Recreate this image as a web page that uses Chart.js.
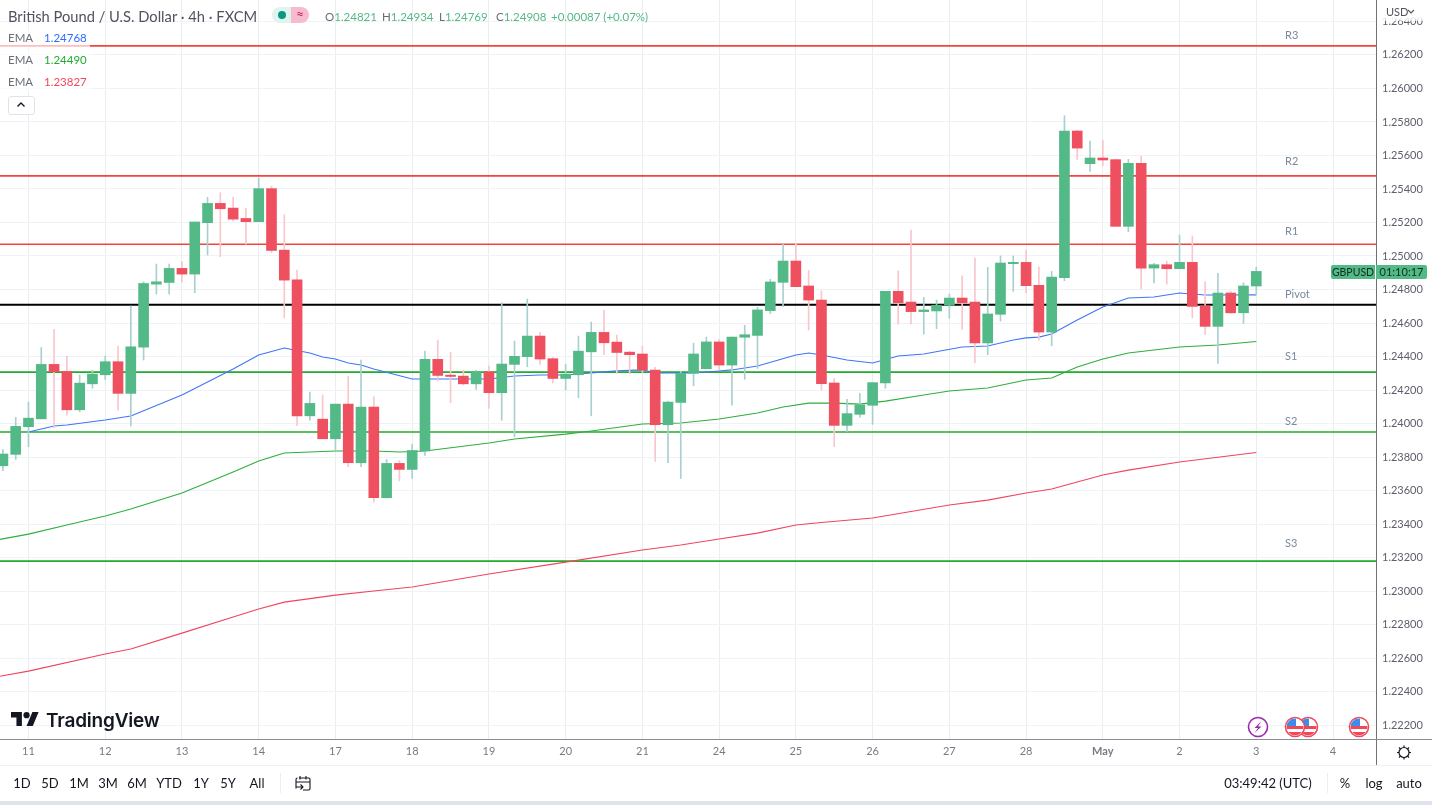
<!DOCTYPE html>
<html>
<head>
<meta charset="utf-8">
<title>GBPUSD 4h</title>
<script src="https://cdn.jsdelivr.net/npm/chart.js@4/dist/chart.umd.min.js"></script>
<style>
  html, body { margin: 0; padding: 0; background: #fff; overflow: hidden; }
  body { width: 1432px; height: 805px; position: relative; font-family: Lato, "Open Sans", sans-serif; color: #131722; }
  canvas { position: absolute; left: 0; top: 0; }
  .t { position: absolute; white-space: nowrap; line-height: 16px; }
  .lvl { position: absolute; left: 1285px; font-size: 11px; line-height: 14px; color: #7b8a9e; }
  .ema { position: absolute; left: 0; height: 20px; width: 90px; background: rgba(255,255,255,.65); font-size: 11.5px; line-height: 20px; }
  .ema span { position: absolute; top: 0; }
  .ema .n { left: 8px; color: #6a6d78; }
  .ema .v { left: 44px; }
  .ohlc { position: absolute; top: 9px; font-size: 11.5px; line-height: 16px; color: #53b987; white-space: nowrap; }
  .ohlc i { font-style: normal; color: #6a6d78; }
  .line { position: absolute; background: #6f7177; }
  .btn { position: absolute; top: 775px; font-size: 13px; line-height: 16px; transform: translateX(-50%); }
  svg { position: absolute; overflow: visible; }
</style>
</head>
<body>
<canvas id="chart" width="1432" height="765"></canvas>

<!-- legend -->
<div class="t" style="left:8px;top:8px;font-size:14.7px;color:#50535e">British Pound / U.S. Dollar · 4h · FXCM</div>
<div style="position:absolute;left:272px;top:7px;width:19px;height:16px;background:#dff3ef;border-radius:8px 0 0 8px"></div>
<div style="position:absolute;left:291px;top:7px;width:18px;height:16px;background:#f8bacf;border-radius:0 8px 8px 0;color:#c2185b;font-size:13px;line-height:15px;text-align:center">≈</div>
<div style="position:absolute;left:278px;top:11px;width:8px;height:8px;background:#089981;border-radius:50%"></div>
<div id="ohlc"></div>
<div class="ema" style="top:28px"><span class="n">EMA</span><span class="v" style="color:#2f6bff">1.24768</span></div>
<div class="ema" style="top:50px"><span class="n">EMA</span><span class="v" style="color:#22ab2e">1.24490</span></div>
<div class="ema" style="top:72px"><span class="n">EMA</span><span class="v" style="color:#f5475b">1.23827</span></div>
<div style="position:absolute;left:8px;top:96px;width:25px;height:17px;border:1px solid #e0e3eb;border-radius:3px;background:#fff"></div>
<svg style="left:16px;top:101px" width="10" height="7"><path d="M1.5 5.5 L5 2 L8.5 5.5" fill="none" stroke="#131722" stroke-width="1.4"/></svg>

<!-- pivot labels -->
<div class="lvl" style="top:28px">R3</div>
<div class="lvl" style="top:154px">R2</div>
<div class="lvl" style="top:224px">R1</div>
<div class="lvl" style="top:287px">Pivot</div>
<div class="lvl" style="top:349px">S1</div>
<div class="lvl" style="top:414px">S2</div>
<div class="lvl" style="top:536px">S3</div>

<!-- axis frame -->
<div class="line" style="left:1376px;top:0;width:1px;height:765px"></div>
<div class="line" style="left:0;top:739px;width:1432px;height:1px;background:#8a8c92"></div>
<div style="position:absolute;left:1377px;top:0;width:55px;height:21px;background:linear-gradient(#fff 80%,rgba(255,255,255,.6))"></div>
<div class="t" style="left:1386px;top:4px;font-size:11px;color:#50535e">USD</div>
<svg style="left:1407px;top:9px" width="8" height="6"><path d="M1 1 L4 4 L7 1" fill="none" stroke="#50535e" stroke-width="1.1"/></svg>

<!-- price tag -->
<div style="position:absolute;left:1331px;top:265px;width:44px;height:14px;background:#53b987;border-radius:2px 0 0 2px;color:#0c2f20;font-size:10.5px;line-height:14px;text-align:center">GBPUSD</div>
<div style="position:absolute;left:1376px;top:265px;width:51px;height:14px;background:#53b987;border-radius:0 2px 2px 0;color:#0c2f20;font-size:11px;line-height:14px;text-align:center">01:10:17</div>

<!-- logo -->
<svg style="left:11px;top:709px" width="28" height="21.8" viewBox="0 0 36 28"><path d="M14 22H7V11H0V4h14v18zM28 22h-8l7.5-18h8L28 22z" fill="#131722"/><circle cx="20" cy="8" r="4" fill="#131722"/></svg>
<div class="t" style="left:46px;top:710px;font-family:Inter,sans-serif;font-weight:600;font-size:19px;line-height:22px;letter-spacing:-.2px;color:#131722">TradingView</div>

<!-- event markers -->
<svg style="left:0;top:0" width="1432" height="805">
  <defs>
    <clipPath id="fc"><circle cx="0" cy="0" r="8.5"/></clipPath>
    <g id="flag">
      <circle r="9.5" fill="#fff" stroke="#f0475a" stroke-width="1.6"/>
      <g clip-path="url(#fc)">
        <rect x="-9" y="-9" width="18" height="18" fill="#fff"/>
        <rect x="-9" y="-1" width="18" height="3" fill="#f0475a"/>
        <rect x="-9" y="5" width="18" height="4" fill="#f0475a"/>
        <rect x="-9" y="-9" width="10" height="8" fill="#3d8bea"/>
      </g>
    </g>
  </defs>
  <circle cx="1258" cy="727" r="9.5" fill="#fff" stroke="#9c27b0" stroke-width="1.6"/>
  <path d="M1261.5 721 L1254.5 728 L1258 728 L1254.5 733 L1261.5 726.5 L1258 726.5 Z" fill="#9c27b0"/>
  <use href="#flag" x="1308" y="727"/>
  <use href="#flag" x="1295" y="727"/>
  <use href="#flag" x="1359" y="727"/>
  <!-- settings -->
  <circle cx="1404" cy="752.5" r="5" fill="none" stroke="#131722" stroke-width="1.2"/>
  <path d="M1404 745.5v2M1404 757.5v2M1397 752.5h2M1409 752.5h2M1399 747.5l1.4 1.4M1407.6 756.1l1.4 1.4M1409 747.5l-1.4 1.4M1400.4 756.1l-1.4 1.4" stroke="#131722" stroke-width="1.2"/>
  <!-- calendar -->
  <path d="M299 778h9.5a1.5 1.5 0 0 1 1.5 1.5v9a1.5 1.5 0 0 1-1.5 1.5H303M296 788.5v-9a1.5 1.5 0 0 1 1.5-1.5M296 782h14M300 776v3.5M306 776v3.5M296 787h7M300.5 784.5L303 787l-2.5 2.5" fill="none" stroke="#131722" stroke-width="1.1"/>
</svg>

<!-- bottom bar -->
<div style="position:absolute;left:0;top:765px;width:1432px;height:1px;background:#eff1f4"></div>
<div class="btn" style="left:22px">1D</div>
<div class="btn" style="left:50px">5D</div>
<div class="btn" style="left:79px">1M</div>
<div class="btn" style="left:108px">3M</div>
<div class="btn" style="left:137px">6M</div>
<div class="btn" style="left:169px">YTD</div>
<div class="btn" style="left:201px">1Y</div>
<div class="btn" style="left:228px">5Y</div>
<div class="btn" style="left:257px">All</div>
<div style="position:absolute;left:280px;top:773px;width:1px;height:20px;background:#eceef2"></div>
<div class="btn" style="left:1268px">03:49:42 (UTC)</div>
<div style="position:absolute;left:1327px;top:773px;width:1px;height:20px;background:#eceef2"></div>
<div class="btn" style="left:1345px">%</div>
<div class="btn" style="left:1374px">log</div>
<div class="btn" style="left:1409px">auto</div>
<div style="position:absolute;left:0;top:801px;width:1432px;height:4px;background:#e0e3eb"></div>

<script>
// daily labels under the chart, one every 6 bars
var dateLabels = ['11', '12', '13', '14', '17', '18', '19', '20', '21', '24', '25', '26', '27', '28', 'May', '2', '3', '4'];
var priceTicks = [1.222, 1.224, 1.226, 1.228, 1.23, 1.232, 1.234, 1.236, 1.238, 1.24, 1.242, 1.244, 1.246, 1.248, 1.25, 1.252, 1.254, 1.256, 1.258, 1.26, 1.262, 1.264];

// 4h bars, first one is two bars before the "11" tick
var firstBar = -2;
var opens = [
  1.23748, 1.23816, 1.23981, 1.24028, 1.24353, 1.24311, 1.24082, 1.24237, 1.24291, 1.24369,
  1.24180, 1.24456, 1.24832, 1.24842, 1.24926, 1.24892, 1.25199, 1.25314, 1.25286, 1.25224,
  1.25205, 1.25402, 1.25035, 1.24858, 1.24046, 1.24026, 1.23909, 1.24116, 1.23766, 1.24098,
  1.23557, 1.23762, 1.23726, 1.23837, 1.24383, 1.24289, 1.24283, 1.24237, 1.24309, 1.24184,
  1.24353, 1.24399, 1.24522, 1.24387, 1.24269, 1.24291, 1.24428, 1.24544, 1.24486, 1.24426,
  1.24415, 1.24319, 1.23993, 1.24126, 1.24300, 1.24327, 1.24487, 1.24349, 1.24515, 1.24526,
  1.24674, 1.24843, 1.24970, 1.24821, 1.24737, 1.24242, 1.23989, 1.24055, 1.24109, 1.24242,
  1.24789, 1.24725, 1.24668, 1.24672, 1.24706, 1.24749, 1.24725, 1.24481, 1.24652, 1.24954,
  1.24962, 1.24825, 1.24546, 1.24870, 1.25746, 1.25551, 1.25585, 1.25575, 1.25177, 1.25553,
  1.24928, 1.24948, 1.24924, 1.24962, 1.24703, 1.24580, 1.24779, 1.24661, 1.24821
];
var highs = [
  1.23845, 1.24036, 1.24128, 1.24454, 1.24562, 1.24403, 1.24289, 1.24319, 1.24403, 1.24462,
  1.24701, 1.24846, 1.24952, 1.24952, 1.24966, 1.25203, 1.25350, 1.25378, 1.25350, 1.25286,
  1.25465, 1.25417, 1.25246, 1.24916, 1.24188, 1.24170, 1.24116, 1.24283, 1.24379, 1.24160,
  1.23786, 1.23778, 1.23877, 1.24432, 1.24498, 1.24426, 1.24319, 1.24319, 1.24343, 1.24721,
  1.24492, 1.24743, 1.24544, 1.24395, 1.24353, 1.24522, 1.24606, 1.24677, 1.24528, 1.24432,
  1.24462, 1.24335, 1.24134, 1.24311, 1.24479, 1.24516, 1.24503, 1.24516, 1.24586, 1.24694,
  1.24861, 1.25072, 1.25076, 1.24913, 1.24793, 1.24270, 1.24144, 1.24180, 1.24244, 1.24789,
  1.24911, 1.25155, 1.24753, 1.24737, 1.24773, 1.24881, 1.24988, 1.24932, 1.25000, 1.25000,
  1.25036, 1.24936, 1.24908, 1.25837, 1.25752, 1.25686, 1.25692, 1.25577, 1.25577, 1.25597,
  1.24956, 1.24968, 1.25125, 1.25119, 1.24846, 1.24896, 1.24791, 1.24840, 1.24934
];
var lows = [
  1.23718, 1.23786, 1.23861, 1.24028, 1.23976, 1.24050, 1.24070, 1.24211, 1.24263, 1.24080,
  1.23985, 1.24379, 1.24773, 1.24773, 1.24844, 1.24781, 1.25006, 1.24996, 1.25209, 1.25071,
  1.25205, 1.25019, 1.24631, 1.23987, 1.24020, 1.23909, 1.23841, 1.23742, 1.23742, 1.23531,
  1.23557, 1.23658, 1.23672, 1.23810, 1.24255, 1.24124, 1.24229, 1.24204, 1.24090, 1.24020,
  1.23921, 1.24339, 1.24353, 1.24243, 1.24200, 1.24154, 1.24046, 1.24411, 1.24299, 1.24297,
  1.24305, 1.23774, 1.23766, 1.23672, 1.24226, 1.24327, 1.24320, 1.24109, 1.24264, 1.24329,
  1.24656, 1.24698, 1.24817, 1.24558, 1.24200, 1.23862, 1.23953, 1.24037, 1.23995, 1.24210,
  1.24594, 1.24594, 1.24534, 1.24566, 1.24628, 1.24562, 1.24363, 1.24411, 1.24612, 1.24789,
  1.24781, 1.24498, 1.24464, 1.24852, 1.25577, 1.25505, 1.25539, 1.25177, 1.25145, 1.24805,
  1.24840, 1.24832, 1.24924, 1.24630, 1.24530, 1.24359, 1.24657, 1.24598, 1.24769
];
var closes = [
  1.23818, 1.23983, 1.24032, 1.24353, 1.24309, 1.24082, 1.24241, 1.24295, 1.24369, 1.24180,
  1.24458, 1.24836, 1.24846, 1.24926, 1.24892, 1.25203, 1.25314, 1.25282, 1.25220, 1.25205,
  1.25402, 1.25033, 1.24856, 1.24046, 1.24120, 1.23909, 1.24116, 1.23766, 1.24098, 1.23557,
  1.23762, 1.23726, 1.23839, 1.24383, 1.24287, 1.24281, 1.24237, 1.24309, 1.24184, 1.24355,
  1.24401, 1.24522, 1.24385, 1.24269, 1.24295, 1.24432, 1.24544, 1.24482, 1.24424, 1.24411,
  1.24319, 1.23993, 1.24128, 1.24299, 1.24415, 1.24487, 1.24349, 1.24516, 1.24530, 1.24678,
  1.24845, 1.24970, 1.24817, 1.24737, 1.24238, 1.23989, 1.24059, 1.24111, 1.24244, 1.24789,
  1.24721, 1.24668, 1.24678, 1.24706, 1.24749, 1.24721, 1.24481, 1.24654, 1.24958, 1.24962,
  1.24823, 1.24546, 1.24874, 1.25746, 1.25644, 1.25585, 1.25573, 1.25177, 1.25553, 1.24928,
  1.24948, 1.24924, 1.24962, 1.24699, 1.24580, 1.24779, 1.24661, 1.24821, 1.24908
];

// EMA lines, read at the bars listed
var blueBars = [0, 2, 3, 6, 8, 12, 16, 18, 20, 22, 23, 24, 25, 26, 27, 30, 33, 36, 38, 40, 42, 43, 46, 48, 49, 52, 54, 55, 57, 60, 61, 62, 64, 66, 68, 70, 73, 75, 77, 78, 79, 80, 82, 84, 86, 88, 90, 92, 96];
var blueEma = [1.23949, 1.23985, 1.23991, 1.24021, 1.24045, 1.24170, 1.24325, 1.24409, 1.24451, 1.24421, 1.24397, 1.24385, 1.24361, 1.24349, 1.24325, 1.24266, 1.24266, 1.24266, 1.24284, 1.24290, 1.24290, 1.24296, 1.24314, 1.24320, 1.24302, 1.24302, 1.24314, 1.24320, 1.24343, 1.24409, 1.24421, 1.24409, 1.24379, 1.24361, 1.24403, 1.24415, 1.24457, 1.24463, 1.24499, 1.24511, 1.24516, 1.24534, 1.24618, 1.24696, 1.24749, 1.24755, 1.24779, 1.24767, 1.24768];
var greenBars = [-3, 0, 3, 6, 8, 12, 16, 18, 20, 24, 27, 29, 31, 36, 38, 42, 44, 48, 51, 54, 57, 59, 61, 63, 65, 67, 70, 72, 75, 78, 80, 82, 84, 86, 90, 93, 96];
var greenEma = [1.23298, 1.23340, 1.23394, 1.23448, 1.23490, 1.23585, 1.23711, 1.23776, 1.23824, 1.23836, 1.23836, 1.23830, 1.23836, 1.23884, 1.23908, 1.23937, 1.23955, 1.23997, 1.24003, 1.24027, 1.24063, 1.24099, 1.24122, 1.24122, 1.24116, 1.24134, 1.24170, 1.24194, 1.24212, 1.24260, 1.24272, 1.24337, 1.24385, 1.24421, 1.24457, 1.24469, 1.24490];
var redBars = [-3, 0, 6, 8, 12, 16, 18, 20, 24, 27, 30, 36, 42, 48, 51, 54, 57, 60, 62, 66, 72, 75, 78, 80, 84, 86, 90, 96];
var redEma = [1.22481, 1.22522, 1.22624, 1.22654, 1.22749, 1.22845, 1.22893, 1.22934, 1.22976, 1.23000, 1.23024, 1.23102, 1.23173, 1.23245, 1.23275, 1.23311, 1.23346, 1.23394, 1.23409, 1.23436, 1.23514, 1.23543, 1.23585, 1.23609, 1.23693, 1.23722, 1.23770, 1.23827];

// pivot levels
var levelNames = ['R3', 'R2', 'R1', 'Pivot', 'S1', 'S2', 'S3'];
var levelPrices = [1.26254, 1.25478, 1.25070, 1.24709, 1.24307, 1.23949, 1.23179];

var ohlcLabels = ['O', 'H', 'L', 'C'];
var ohlcValues = ['1.24821', '1.24934', '1.24769', '1.24908'];

var xMin = -2.228, xMax = 105.36;
var GREEN = '#53b987', RED = '#ee5060';
var FONT = 'Lato, "Open Sans", sans-serif';

// legend values, 57px apart like the original
var ohlcHtml = ohlcLabels.map(function (l, i) {
  return '<div class="ohlc" style="left:' + (325 + i * 57) + 'px"><i>' + l + '</i>' + ohlcValues[i] + '</div>';
}).join('');
document.getElementById('ohlc').innerHTML = ohlcHtml + '<div class="ohlc" style="left:551px">+0.00087 (+0.07%)</div>';

function points(xs, ys) {
  return xs.map(function (x, i) { return { x: x, y: ys[i] }; });
}

var wickData = [], bodyData = [], wickColors = [], bodyColors = [];
opens.forEach(function (o, i) {
  var up = closes[i] >= o;
  wickData.push({ x: firstBar + i, y: [lows[i], highs[i]] });
  bodyData.push({ x: firstBar + i, y: [o, closes[i]] });
  wickColors.push(up ? '#a9cfcf' : '#f9c6cc');
  bodyColors.push(up ? GREEN : RED);
});

var levelSets = levelNames.map(function (name, i) {
  var color = name === 'Pivot' ? '#000000' : (name.charAt(0) === 'R' ? '#f2453d' : '#22ab2e');
  return {
    type: 'line', label: name, order: 4,
    data: [{ x: xMin, y: levelPrices[i] }, { x: xMax, y: levelPrices[i] }],
    borderColor: color, borderWidth: name === 'Pivot' ? 2 : 1.6, pointRadius: 0, tension: 0
  };
});

function emaSet(label, xs, ys, color) {
  return { type: 'line', label: label, order: 3, data: points(xs, ys), borderColor: color, borderWidth: 1.1, pointRadius: 0, tension: 0 };
}

new Chart(document.getElementById('chart'), {
  type: 'bar',
  data: {
    datasets: levelSets.concat([
      emaSet('EMA 50', blueBars, blueEma, '#3f76f5'),
      emaSet('EMA 100', greenBars, greenEma, '#2fae3c'),
      emaSet('EMA 200', redBars, redEma, '#f0455c'),
      { label: 'wick', order: 1, grouped: false, data: wickData, backgroundColor: wickColors, barThickness: 1 },
      { label: 'body', order: 0, grouped: false, data: bodyData, backgroundColor: bodyColors, barThickness: 10, minBarLength: 1 }
    ])
  },
  options: {
    responsive: false,
    animation: false,
    layout: { padding: 0 },
    plugins: { legend: { display: false }, tooltip: { enabled: false } },
    scales: {
      x: {
        type: 'linear', min: xMin, max: xMax, offset: false,
        grid: { color: '#e8eff3', lineWidth: 1, drawTicks: false, offset: false },
        border: { display: false },
        afterBuildTicks: function (s) { s.ticks = dateLabels.map(function (d, i) { return { value: i * 6 }; }); },
        // no side padding, the plot runs to the canvas edge
        afterFit: function (s) { s.height = 26; s.paddingLeft = 0; s.paddingRight = 0; },
        ticks: {
          autoSkip: false, maxRotation: 0, padding: 6, color: '#787b86',
          font: function (c) {
            var isMay = c.tick && dateLabels[c.tick.value / 6] === 'May';
            return { family: FONT, size: 11, weight: isMay ? 'bold' : 'normal' };
          },
          callback: function (v) { return dateLabels[v / 6]; }
        }
      },
      y: {
        position: 'right', min: 1.22117, max: 1.26528,
        grid: { color: '#eff3f6', lineWidth: 1, drawTicks: false },
        border: { display: false },
        afterBuildTicks: function (s) { s.ticks = priceTicks.map(function (v) { return { value: v }; }); },
        afterFit: function (s) { s.width = 56; s.paddingTop = 0; s.paddingBottom = 0; },
        ticks: {
          autoSkip: false, padding: 6, color: '#5d606b', font: { family: FONT, size: 11 },
          callback: function (v) { return v.toFixed(5); }
        }
      }
    }
  }
});
</script>
</body>
</html>
